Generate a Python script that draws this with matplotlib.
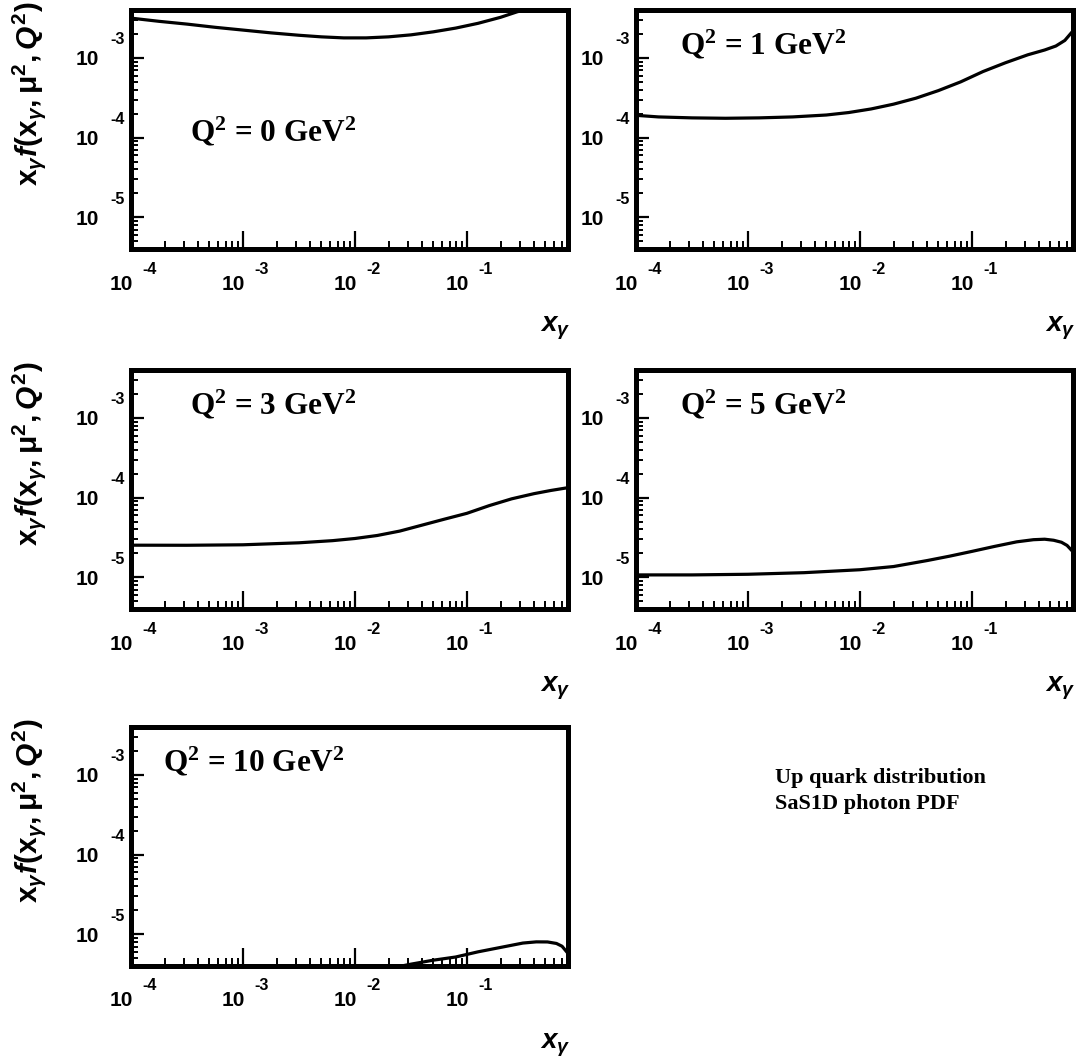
import numpy as np
import matplotlib
matplotlib.use("Agg")
import matplotlib.pyplot as plt
from matplotlib.ticker import LogLocator, NullFormatter

plt.rcParams['mathtext.fontset'] = 'custom'
plt.rcParams['mathtext.rm'] = 'Liberation Sans:bold'
plt.rcParams['mathtext.it'] = 'Liberation Sans:bold:italic'
plt.rcParams['mathtext.bf'] = 'Liberation Sans:bold'

# --- curves (log10 x, log10 y) --------------------------------------

q2_labels = ["0", "1", "3", "5", "10"]

logx_q0 = [-4.0, -3.75, -3.5, -3.25, -3.0, -2.75, -2.5, -2.3, -2.1, -1.9, -1.7, -1.5,
           -1.3, -1.1, -0.9, -0.7, -0.55, -0.4, -0.25, -0.097]
logy_q0 = [-2.50, -2.54, -2.575, -2.615, -2.65, -2.685, -2.715, -2.735, -2.748, -2.748,
           -2.735, -2.71, -2.672, -2.625, -2.565, -2.49, -2.42, -2.37, -2.33, -2.30]

logx_q1 = [-4.0, -3.8, -3.5, -3.2, -2.9, -2.6, -2.3, -2.1, -1.9, -1.7, -1.5, -1.3,
           -1.1, -0.9, -0.7, -0.5, -0.35, -0.25, -0.17, -0.097]
logy_q1 = [-3.72, -3.74, -3.752, -3.757, -3.752, -3.74, -3.716, -3.685, -3.64, -3.58,
           -3.505, -3.41, -3.30, -3.17, -3.06, -2.96, -2.9, -2.85, -2.78, -2.66]

logx_q3 = [-4.0, -3.5, -3.0, -2.5, -2.2, -2.0, -1.8, -1.6, -1.4, -1.2, -1.0, -0.8,
           -0.6, -0.4, -0.25, -0.097]
logy_q3 = [-4.597, -4.598, -4.592, -4.567, -4.54, -4.513, -4.475, -4.42, -4.345, -4.27,
           -4.197, -4.10, -4.015, -3.95, -3.91, -3.875]

logx_q5 = [-4.0, -3.5, -3.0, -2.5, -2.0, -1.7, -1.4, -1.2, -1.0, -0.8, -0.6, -0.45,
           -0.35, -0.27, -0.2, -0.15, -0.097]
logy_q5 = [-4.97, -4.97, -4.962, -4.942, -4.905, -4.865, -4.79, -4.735, -4.675, -4.613,
           -4.555, -4.528, -4.522, -4.535, -4.56, -4.60, -4.68]

logx_q10 = [-2.0, -1.7, -1.5, -1.3, -1.1, -0.9, -0.7, -0.5, -0.38, -0.28, -0.2, -0.15, -0.097]
logy_q10 = [-5.55, -5.43, -5.375, -5.325, -5.285, -5.22, -5.165, -5.11, -5.095, -5.096,
            -5.115, -5.15, -5.24]

curves = [(logx_q0, logy_q0), (logx_q1, logy_q1), (logx_q3, logy_q3),
          (logx_q5, logy_q5), (logx_q10, logy_q10)]

x_decades = [-4, -3, -2, -1]
y_decades = [-3, -4, -5]

# --- layout ----------------------------------------------------------

fig = plt.figure(figsize=(10.82, 10.61), dpi=100)

W, H = 1082.0, 1061.0
col_left = [131, 636]
row_bottom = [249, 609, 966]
aw, ah = 437, 239

# label positions inside each panel (axes fraction)
q_pos = [(0.135, 0.49), (0.10, 0.855), (0.135, 0.855), (0.10, 0.855), (0.073, 0.855)]

cells = [(0, 0), (0, 1), (1, 0), (1, 1), (2, 0)]

for i, (r, c) in enumerate(cells):
  ax = fig.add_axes([col_left[c] / W, 1 - row_bottom[r] / H, aw / W, ah / H])
  lx, ly = curves[i]
  ax.plot(10.0 ** np.array(lx), 10.0 ** np.array(ly), color="black", lw=2.3,
          solid_joinstyle="round")

  ax.set_xscale("log")
  ax.set_yscale("log")
  ax.set_xlim(1e-4, 0.8)
  ax.set_ylim(4e-6, 4e-3)

  for s in ax.spines.values():
    s.set_linewidth(3.6)

  ax.xaxis.set_minor_locator(LogLocator(base=10, subs=np.arange(2, 10), numticks=20))
  ax.yaxis.set_minor_locator(LogLocator(base=10, subs=np.arange(2, 10), numticks=20))
  ax.xaxis.set_minor_formatter(NullFormatter())
  ax.yaxis.set_minor_formatter(NullFormatter())
  ax.set_xticks([10.0 ** e for e in x_decades])
  ax.set_yticks([10.0 ** e for e in y_decades])
  ax.tick_params(axis="x", which="major", direction="in", length=13, width=1.6)
  ax.tick_params(axis="x", which="minor", direction="in", length=6, width=1.4)
  ax.tick_params(axis="y", which="major", direction="in", length=9, width=1.6)
  ax.tick_params(axis="y", which="minor", direction="in", length=5, width=1.4)
  ax.tick_params(which="both", top=False, right=False, labelbottom=False, labelleft=False)

  # ROOT style decade labels: "10" with the exponent set apart
  for e in x_decades:
    ax.annotate("10", xy=(10.0 ** e, 0), xycoords=("data", "axes fraction"),
                xytext=(-10, -35), textcoords="offset pixels", ha="center", va="center",
                fontsize=15, fontweight="bold", family="Liberation Sans")
    ax.annotate(str(e), xy=(10.0 ** e, 0), xycoords=("data", "axes fraction"),
                xytext=(11, -20), textcoords="offset pixels", ha="left", va="center",
                fontsize=11.5, fontweight="bold", family="Liberation Sans")
  for e in y_decades:
    ax.annotate("10", xy=(0, 10.0 ** e), xycoords=("axes fraction", "data"),
                xytext=(-32, -2), textcoords="offset pixels", ha="right", va="center",
                fontsize=15, fontweight="bold", family="Liberation Sans")
    ax.annotate(str(e), xy=(0, 10.0 ** e), xycoords=("axes fraction", "data"),
                xytext=(-6, 18), textcoords="offset pixels", ha="right", va="center",
                fontsize=11.5, fontweight="bold", family="Liberation Sans")

  ax.text(q_pos[i][0], q_pos[i][1],
          r"Q$\mathregular{^2}$ = " + q2_labels[i] + r" GeV$\mathregular{^2}$",
          transform=ax.transAxes, ha="left", va="center", fontsize=22.5,
          fontweight="bold", family="Liberation Serif")

  ax.set_xlabel(r"$x_{\gamma}$", fontsize=20, loc="right")
  ax.xaxis.set_label_coords(1.005, -0.27)

  if c == 0:
    ax.set_ylabel(r"$\mathrm{x}_{\gamma}f(\mathrm{x}_{\gamma},\mathrm{\mu}^{2},Q^{2})$",
                  fontsize=21.5, loc="top")
    ax.yaxis.set_label_coords(-0.19, 1.035)

fig.text(775 / W, 1 - 783 / H, "Up quark distribution", ha="left", va="baseline",
         fontsize=16, fontweight="bold", family="Liberation Serif")
fig.text(775 / W, 1 - 809 / H, "SaS1D photon PDF", ha="left", va="baseline",
         fontsize=16, fontweight="bold", family="Liberation Serif")

fig.savefig("out.png", dpi=100)
